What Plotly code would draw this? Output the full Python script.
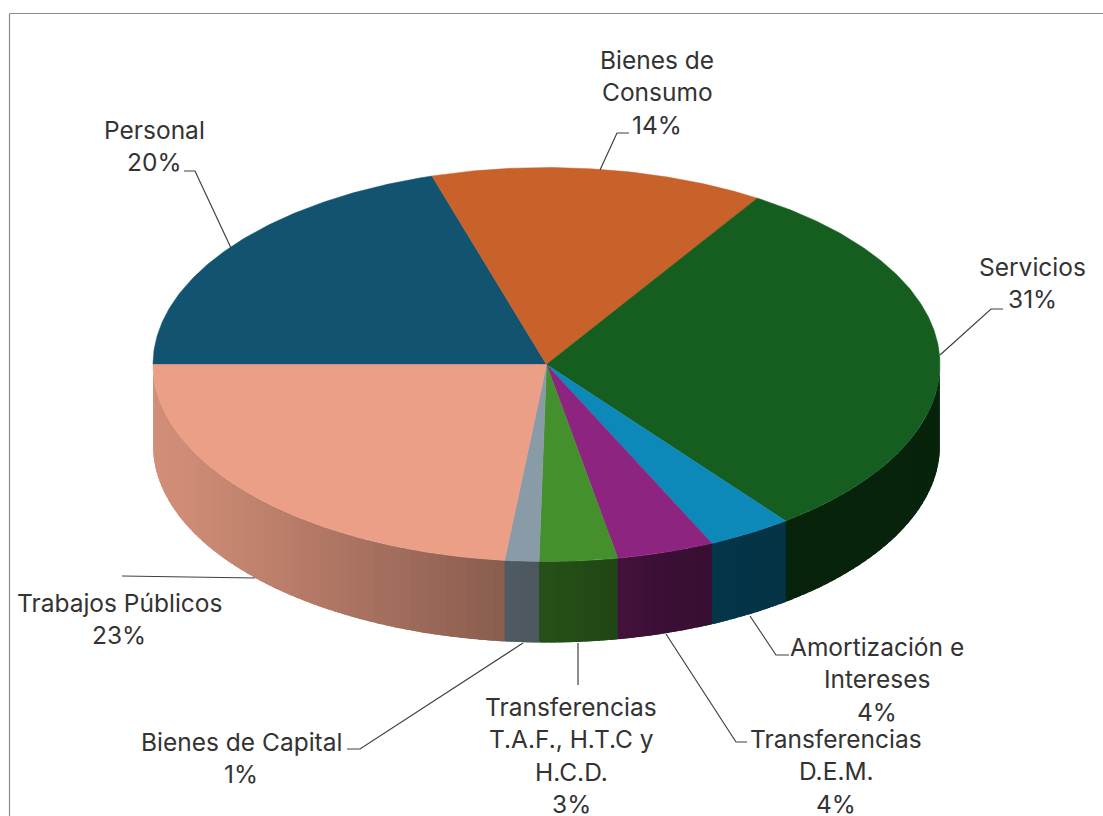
import numpy as np
import plotly.graph_objects as go

# ---- data (share of total, clockwise from the left edge)
categories = ["Personal", "Bienes de Consumo", "Servicios", "Amortización e Intereses",
              "Transferencias D.E.M.", "Transferencias T.A.F., H.T.C y H.C.D.",
              "Bienes de Capital", "Trabajos Públicos"]
values = [20.3, 13.7, 30.6, 3.5, 4.0, 3.2, 1.4, 23.3]
pct_labels = ["20%", "14%", "31%", "4%", "4%", "3%", "1%", "23%"]
label_lines = [["Personal"], ["Bienes de", "Consumo"], ["Servicios"], ["Amortización e", "Intereses"],
               ["Transferencias", "D.E.M."], ["Transferencias", "T.A.F., H.T.C y", "H.C.D."],
               ["Bienes de Capital"], ["Trabajos Públicos"]]

# ---- styles / layout
colors = ["#125470", "#c9622a", "#155e1f", "#0c89b9", "#8d2580", "#44902c", "#8a9ba8", "#eb9f86"]
W, H = 1103, 816
CX, CY, RX, RY, DEPTH = 546.5, 364.5, 393.5, 197, 81
label_pos = [(154, 130), (657, 60), (1032, 267), (877, 647), (836, 739), (571, 707), (241, 742), (119, 603)]
LINE_H = 32.4
leaders = [
    [(184, 171), (195, 171), (231, 248)],
    [(600, 170), (617, 133), (629, 133)],
    [(940, 355), (991, 309), (1003, 309)],
    [(750, 616), (776, 655), (789, 655)],
    [(666, 634), (736, 742), (747, 742)],
    [(578, 643), (578, 685)],
    [(523, 643), (360, 749), (347, 749)],
    [(255, 578), (122, 576)],
]
shade_x = [150, 200, 500, 580, 665, 750, 1000]
shade_f = [0.90, 0.87, 0.59, 0.53, 0.42, 0.38, 0.38]


def shade(hex_color, f):
    r, g, b = (int(hex_color[i:i + 2], 16) for i in (1, 3, 5))
    return f"rgb({int(r * f)},{int(g * f)},{int(b * f)})"


def rim(t):
    return CX + RX * np.cos(t), CY - RY * np.sin(t)


fig = go.Figure()
shares = np.array(values) / sum(values)
edges = np.pi - 2 * np.pi * np.concatenate([[0], np.cumsum(shares)])  # clockwise from left
side_traces, top_traces = [], []

for i, col in enumerate(colors):
    a0, a1 = edges[i], edges[i + 1]
    ts = np.linspace(a0, a1, max(3, int(abs(a1 - a0) / 0.01)))
    x, y = rim(ts)
    top_traces.append(go.Scatter(
        x=np.r_[CX, x, CX], y=np.r_[CY, y, CY], mode="lines", fill="toself", fillcolor=col,
        line=dict(color=col, width=0.5), hoverinfo="text", text=categories[i], showlegend=False))
    # visible outer wall: lower half of the ellipse only (sin t <= 0)
    lo, hi = a1, min(a0, 0.0)
    if hi <= lo:
        continue
    n = max(2, int((hi - lo) / 0.025) + 1)
    steps = np.linspace(hi, lo, n + 1)
    for s0, s1 in zip(steps[:-1], steps[1:]):
        # each strip runs on under the next one, so no seam shows
        tt = np.linspace(s0, max(s1 - 0.02, -np.pi), 5)
        sx, sy = rim(tt)
        f = float(np.interp(rim((s0 + s1) / 2)[0], shade_x, shade_f))
        c = shade(col, f)
        side_traces.append(go.Scatter(
            x=np.r_[sx, sx[::-1], sx[0]], y=np.r_[sy, sy[::-1] + DEPTH, sy[0]],
            mode="lines", fill="toself", fillcolor=c, line=dict(width=0),
            hoverinfo="skip", showlegend=False))

fig.add_traces(side_traces)
fig.add_traces(top_traces)

for pts in leaders:
    fig.add_trace(go.Scatter(x=[p[0] for p in pts], y=[p[1] for p in pts], mode="lines",
                             line=dict(color="#404040", width=1.2), hoverinfo="skip", showlegend=False))

annotations = []
for lines, pct, (lx, ly) in zip(label_lines, pct_labels, label_pos):
    for k, txt in enumerate(lines + [pct]):
        annotations.append(dict(x=lx, y=ly + k * LINE_H, xref="x", yref="y", text=txt, showarrow=False,
                                xanchor="center", yanchor="middle",
                                font=dict(family="Inter, Noto Sans, sans-serif", size=24.5, color="#333333")))

fig.update_layout(
    width=W, height=H, margin=dict(l=0, r=0, t=0, b=0), paper_bgcolor="white", plot_bgcolor="white",
    xaxis=dict(range=[0, W], visible=False, fixedrange=True),
    yaxis=dict(range=[H, 0], visible=False, fixedrange=True),
    annotations=annotations, showlegend=False,
    shapes=[dict(type="line", xref="x", yref="y", x0=9.5, x1=W, y0=13.5, y1=13.5, line=dict(color="#8c8c8c", width=1.2)),
            dict(type="line", xref="x", yref="y", x0=9.5, x1=9.5, y0=13.5, y1=H, line=dict(color="#8c8c8c", width=1.2))],
)
fig.write_html("out.html", config={"displayModeBar": False},
               post_script="document.body.style.margin='0';document.body.style.overflow='hidden';")
